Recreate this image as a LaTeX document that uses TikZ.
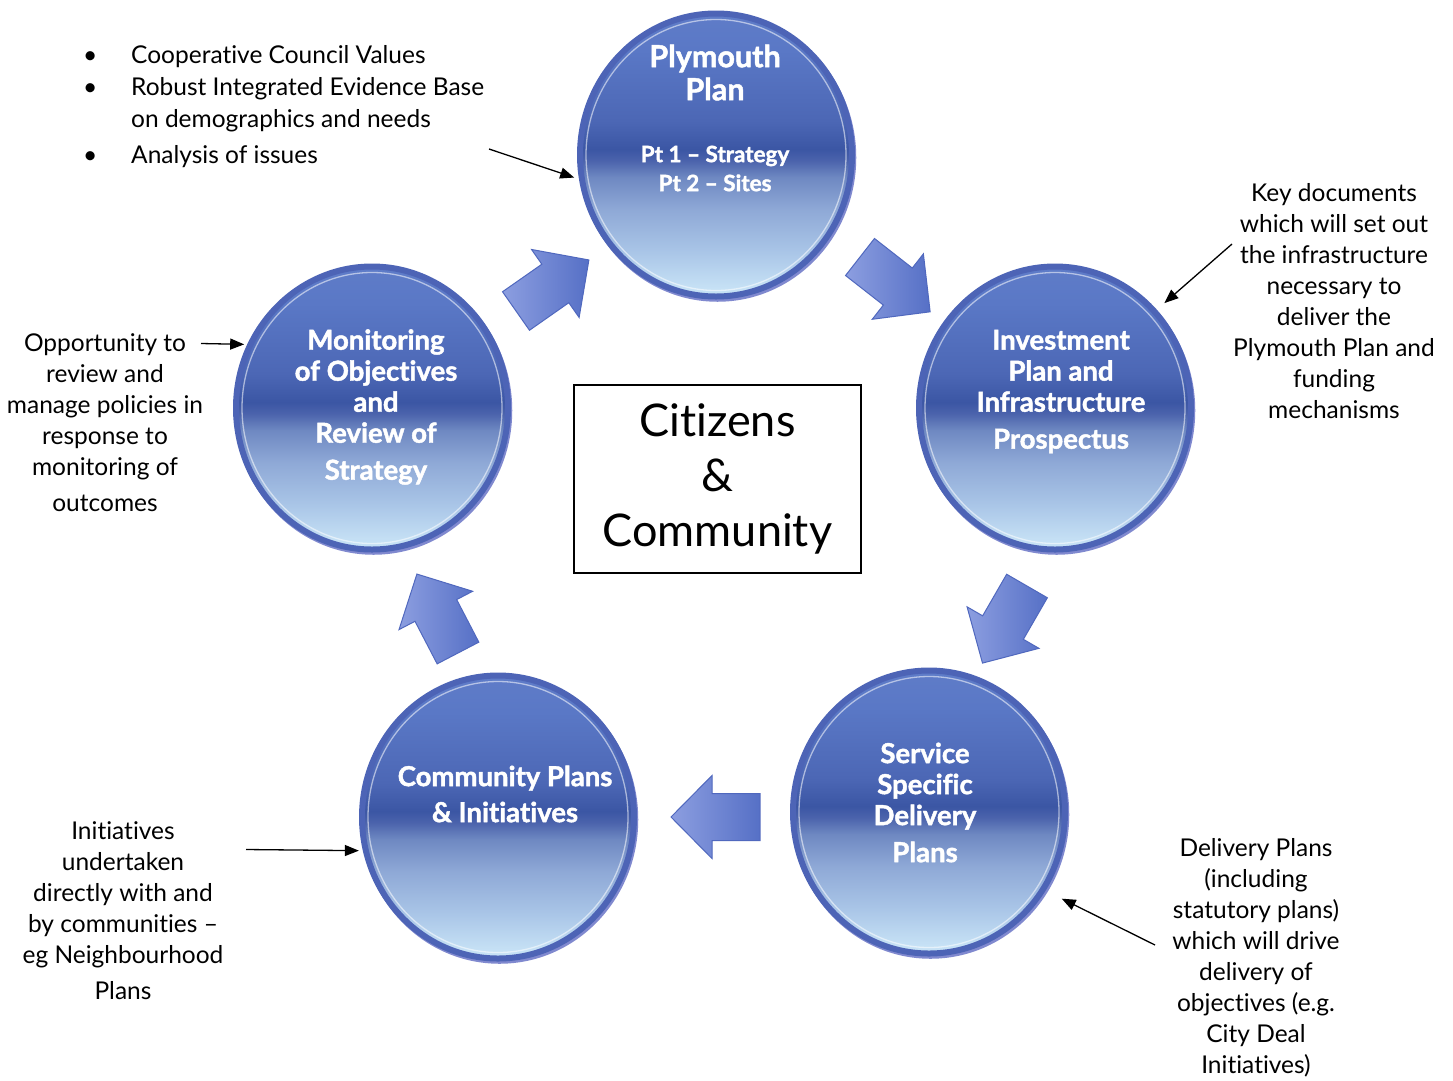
\documentclass[tikz,border=0pt]{standalone}
\usepackage{fontspec}
\setmainfont{Lato}[Ligatures={TeX,NoCommon}]
\newfontfamily\heavyfont{Lato}[Ligatures={TeX,NoCommon},BoldFeatures={FakeBold=1.6}]
\usetikzlibrary{arrows.meta,calc,shapes.geometric}
\definecolor{ringdark}{HTML}{4D64B6}
\definecolor{ringlav}{HTML}{8089CF}
\definecolor{sA}{HTML}{5F7CC8}
\definecolor{sB}{HTML}{5A78C6}
\definecolor{sC}{HTML}{4C67B5}
\definecolor{sD}{HTML}{3B56A4}
\definecolor{sE}{HTML}{4B63AC}
\definecolor{sF}{HTML}{6F89C2}
\definecolor{sG}{HTML}{8EA8D6}
\definecolor{sH}{HTML}{A9C5E7}
\definecolor{sI}{HTML}{C6E1F5}
\definecolor{arlight}{HTML}{8C9EE0}
\definecolor{ardark}{HTML}{5670C6}
\definecolor{aredge}{HTML}{5068BE}
\pgfdeclareverticalshading{ballshade}{100bp}{color(0bp)=(sI); color(26.5bp)=(sI); color(33bp)=(sH); color(40.5bp)=(sG); color(46bp)=(sF); color(49bp)=(sE); color(51bp)=(sD); color(56bp)=(sC); color(68.5bp)=(sB); color(75bp)=(sA); color(100bp)=(sA)}
\tikzset{
  ball/.style={ellipse, minimum width=272pt, minimum height=283pt, inner sep=0pt, shading=ballshade, draw=ringdark, line width=6pt,
    preaction={draw=ringlav, line width=5.5pt, transform canvas={xshift=1.5pt,yshift=-2.5pt}},
    path picture={\draw[white,opacity=.55,line width=1.3pt] (path picture bounding box.center) ellipse[x radius=130pt, y radius=135.5pt];}},
  ctext/.style={text=white, font=\heavyfont\bfseries\fontsize{27.5}{31}\selectfont, align=center, inner sep=0pt},
  atext/.style={text=black, font=\fontsize{24.5}{31}\selectfont, align=center, inner sep=0pt},
  annarrow/.style={-{Triangle[length=14pt,width=11pt]}, line width=1.3pt, black},
  barrowstyle/.style={left color=arlight, right color=ardark, draw=aredge, line width=1pt, line join=miter},
  blockarr/.pic={\path[barrowstyle] (0,-23.5) -- (48,-23.5) -- (48,-41.5) -- (89,0) -- (48,41.5) -- (48,23.5) -- (0,23.5) -- cycle;}
}
\newcommand\bulitem{\makebox[48pt][l]{\textbullet}}
\begin{document}
\begin{tikzpicture}[x=1pt,y=-1pt]
\useasboundingbox (0,0) rectangle (1453,1080);
\fill[white] (0,0) rectangle (1453,1080);

% circles
\node[ball] (pp) at (716,155) {};
\node[ball] (ip) at (1055,408) {};
\node[ball] (ss) at (929,812) {};
\node[ball] (cp) at (498,817) {};
\node[ball] (mo) at (372,408) {};

% circle texts
\node[ctext, font=\heavyfont\bfseries\fontsize{30.5}{33}\selectfont] (ppt1) at (715,72.5) {Plymouth\\Plan};
\node[ctext, font=\heavyfont\bfseries\fontsize{22.5}{29}\selectfont] (ppt2) at (715,168.5) {Pt 1 – Strategy\\Pt 2 – Sites};
\node[ctext] (ipt) at (1061,391.5) {Investment\\Plan and\\Infrastructure\\[6pt]Prospectus};
\node[ctext] (sst) at (925,802.5) {Service\\Specific\\Delivery\\[6pt]Plans};
\node[ctext] (cpt) at (505,794) {Community Plans\\[5pt]\& Initiatives};
\node[ctext] (mot) at (376,407) {Monitoring\\of Objectives\\and\\Review of\\[6pt]Strategy};

% block arrows
\pic[rotate=35] at (516,311) {blockarr};
\pic[rotate=-38] at (860,257) {blockarr};
\pic[rotate=240] at (1027,586) {blockarr};
\pic[rotate=180] at (760,817) {blockarr};
\pic[rotate=117.5] at (458,653) {blockarr};

% centre box
\node[draw=black, line width=1.5pt, minimum width=287pt, minimum height=188pt, inner sep=0pt,
  font=\fontsize{45}{55}\selectfont, align=center] (cc) at (717.5,479) {Citizens\\\&\\Community};

% annotations
\node[text=black, font=\fontsize{24.5}{32}\selectfont, align=left, inner sep=0pt, anchor=west] (bl) at (83,106.5)
  {\bulitem Cooperative Council Values\\\bulitem Robust Integrated Evidence Base\\\hspace*{48pt}on demographics and needs\\[4pt]\bulitem Analysis of issues};
\node[atext] (kd) at (1334,301) {Key documents\\which will set out\\the infrastructure\\necessary to\\deliver the\\Plymouth Plan and\\funding\\mechanisms};
\node[atext] (op) at (105,423) {Opportunity to\\review and\\manage policies in\\response to\\monitoring of\\[5pt]outcomes};
\node[atext] (in) at (123,911) {Initiatives\\undertaken\\directly with and\\by communities –\\eg Neighbourhood\\[5pt]Plans};
\node[atext] (dp) at (1256,957.5) {Delivery Plans\\(including\\statutory plans)\\which will drive\\delivery of\\objectives (e.g.\\City Deal\\Initiatives)};

% annotation arrows
\coordinate (a1) at (489,149);
\coordinate (a2) at (1232,244);
\coordinate (a3) at (201,343.5);
\coordinate (a4) at (246,849.5);
\coordinate (a5) at (1155,945);
\draw[annarrow, shorten >=5pt] (a1) -- (pp.190);
\draw[annarrow, shorten >=10pt] (a2) -- (ip.44);
\draw[annarrow, shorten >=3pt] (a3) -- (mo.153);
\draw[annarrow, shorten >=4pt] (a4) -- (cp.194);
\draw[annarrow, shorten >=18pt] (a5) -- (ss.-34);
\end{tikzpicture}
\end{document}
